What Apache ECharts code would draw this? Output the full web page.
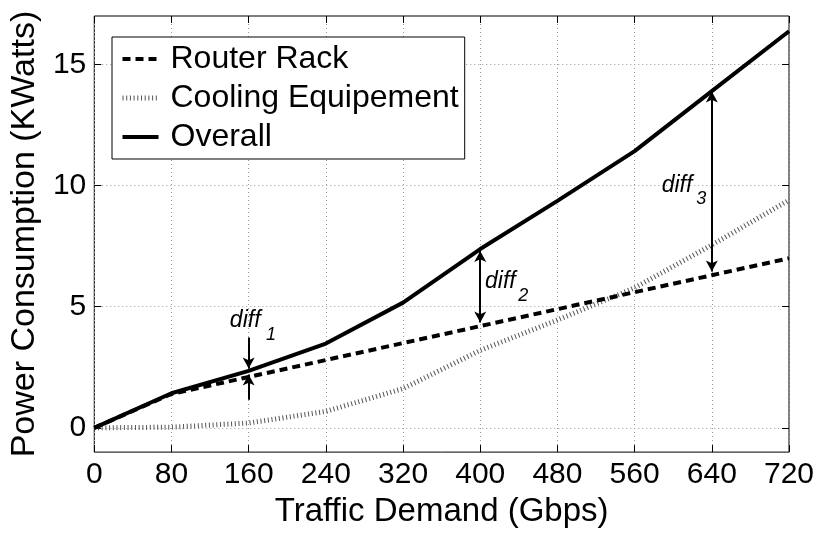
<!DOCTYPE html>
<html>
<head>
<meta charset="utf-8">
<script src="https://cdn.jsdelivr.net/npm/echarts@6/dist/echarts.min.js"></script>
<style>
html,body{margin:0;padding:0;background:#fff;}
#c{width:820px;height:533px;}
</style>
</head>
<body>
<div id="c"></div>
<script>
// ---- data ----
const trafficDemand = [0, 80, 160, 240, 320, 400, 480, 560, 640, 720];
const routerRack    = [0, 1.4, 2.1, 2.8, 3.5, 4.2, 4.9, 5.6, 6.3, 7.0];
const cooling       = [0, 0.03, 0.2, 0.68, 1.62, 3.2, 4.45, 5.78, 7.55, 9.4];
const overall       = [0, 1.43, 2.35, 3.48, 5.17, 7.38, 9.37, 11.42, 13.9, 16.37];
const xTickValues   = [0, 80, 160, 240, 320, 400, 480, 560, 640, 720];
const yTickValues   = [0, 5, 10, 15];
const seriesNames   = ['Router Rack', 'Cooling Equipement', 'Overall'];
// annotation arrows: [x, fromY, toY, doubleHeaded]
const diffArrows = [
  [160, 3.73, 2.45, false],
  [160, 1.16, 2.2, false],
  [400, 7.3, 4.35, true],
  [640, 13.88, 6.45, true]
];
const diffIndex = ['1', '2', '3'];
const diffTextAt = [[140.5, 4.44], [405.0, 6.05], [588.0, 10.02]];
const diffSubAt  = [[178.1, 3.84], [439.3, 5.46], [623.9, 9.45]];

const pairs = ys => trafficDemand.map((x, i) => [x, ys[i]]);
const FONT = 'Liberation Sans, Arial, Helvetica, sans-serif';

const chart = echarts.init(document.getElementById('c'), null, {renderer: 'canvas'});

const gridLine = {show: true, lineStyle: {color: '#9a9a9a', type: [1, 3], width: 1}};

const arrowData = diffArrows.map(a => [
  {coord: [a[0], a[1]], symbol: a[3] ? 'arrow' : 'none', symbolSize: [9, 11]},
  {coord: [a[0], a[2]], symbol: 'arrow', symbolSize: [9, 11]}
]);
const labelData = [];
diffIndex.forEach((s, i) => {
  labelData.push({name: 'diff', coord: diffTextAt[i],
    label: {fontSize: 23}});
  labelData.push({name: s, coord: diffSubAt[i],
    label: {fontSize: 18}});
});

const routerStyle  = {color: '#000', width: 4, type: [8, 5]};
const coolingStyle = {color: '#555', width: 5, type: [1, 2.7]};
const overallStyle = {color: '#000', width: 4, type: 'solid'};

chart.setOption({
  animation: false,
  backgroundColor: '#fff',
  grid: {left: 90, right: 31, top: 16, bottom: 79, show: true,
         borderColor: '#000', borderWidth: 1, backgroundColor: '#fff'},
  legend: {
    orient: 'vertical', left: 112, top: 37,
    data: [
      {name: seriesNames[0], lineStyle: routerStyle},
      {name: seriesNames[1], lineStyle: coolingStyle},
      {name: seriesNames[2], lineStyle: overallStyle}
    ],
    itemStyle: {opacity: 0, color: 'transparent', borderWidth: 0},
    backgroundColor: '#fff', borderColor: '#000', borderWidth: 1,
    padding: [6, 6, 6, 8], itemGap: 7, itemWidth: 36, itemHeight: 14,
    borderRadius: 0,
    textStyle: {fontFamily: FONT, fontSize: 32, color: '#000', lineHeight: 32, padding: [0, 0, 0, 7]},
    selectedMode: false
  },
  xAxis: [{
    type: 'value', min: 0, max: 720, interval: 80, position: 'bottom',
    name: 'Traffic Demand (Gbps)', nameLocation: 'middle', nameGap: 34,
    nameTextStyle: {fontFamily: FONT, fontSize: 33, color: '#000'},
    axisLine: {show: false, onZero: false},
    axisTick: {show: true, inside: true, length: 7, lineStyle: {color: '#000'}},
    axisLabel: {fontFamily: FONT, fontSize: 30, color: '#000', margin: 8,
                formatter: v => xTickValues.includes(v) ? String(v) : ''},
    splitLine: gridLine
  }, {
    type: 'value', min: 0, max: 720, interval: 80, position: 'top',
    axisLine: {show: false, onZero: false},
    axisTick: {show: true, inside: true, length: 7, lineStyle: {color: '#000'}},
    axisLabel: {show: false}, splitLine: {show: false}
  }],
  yAxis: [{
    type: 'value', min: -1, max: 17, position: 'left',
    name: 'Power Consumption (KWatts)', nameLocation: 'middle', nameGap: 50,
    nameTextStyle: {fontFamily: FONT, fontSize: 34, color: '#000'},
    axisLine: {show: false, onZero: false},
    axisTick: {show: true, inside: true, length: 7, lineStyle: {color: '#000'}, customValues: yTickValues},
    axisLabel: {fontFamily: FONT, fontSize: 30, color: '#000', margin: 8, customValues: yTickValues},
    splitLine: gridLine
  }, {
    type: 'value', min: -1, max: 17, position: 'right',
    axisLine: {show: false, onZero: false},
    axisTick: {show: true, inside: true, length: 7, lineStyle: {color: '#000'}, customValues: yTickValues},
    axisLabel: {show: false, customValues: yTickValues}, splitLine: {show: false}
  }],
  series: [{
    name: seriesNames[0], type: 'line', data: pairs(routerRack),
    symbol: 'none', color: '#000', z: 3,
    lineStyle: routerStyle
  }, {
    name: seriesNames[1], type: 'line', data: pairs(cooling),
    symbol: 'none', color: '#555', z: 2,
    lineStyle: coolingStyle
  }, {
    name: seriesNames[2], type: 'line', data: pairs(overall),
    symbol: 'none', color: '#000', z: 4,
    lineStyle: overallStyle,
    markLine: {
      silent: true, animation: false,
      label: {show: false},
      lineStyle: {color: '#000', width: 2, type: 'solid'},
      emphasis: {disabled: true},
      data: arrowData
    },
    markPoint: {
      silent: true, animation: false,
      symbol: 'circle', symbolSize: 0,
      itemStyle: {color: 'transparent'},
      label: {show: true, position: 'right', distance: 0, formatter: '{b}',
              fontFamily: FONT, fontStyle: 'italic', color: '#000'},
      data: labelData
    }
  }]
});
</script>
</body>
</html>
